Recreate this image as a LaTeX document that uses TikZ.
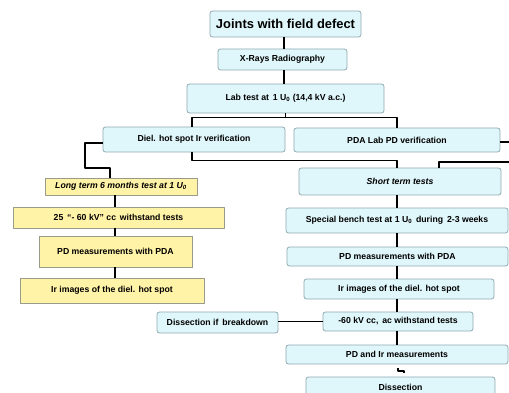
\documentclass[tikz,border=0pt]{standalone}
\usepackage{fontspec}
\setmainfont{Liberation Sans}
\definecolor{cyanbox}{HTML}{DFF6FA}
\definecolor{cyanline}{HTML}{8FA9B2}
\definecolor{yelbox}{HTML}{FFF3A8}
\definecolor{yelline}{HTML}{9A9A8A}
\begin{document}
\begin{tikzpicture}[x=1pt, y=-1pt, line join=round, font=\bfseries\fontsize{8.7}{10}\selectfont,
		cbox/.style={draw=cyanline, fill=cyanbox, rounded corners=2.5pt, inner sep=0pt, line width=0.8pt},
		ybox/.style={draw=yelline, fill=yelbox, inner sep=0pt, line width=0.8pt},
		link/.style={line width=1.6pt}]
			\def\xl{115}
			\def\xr{397}
			\useasboundingbox (0,0) rectangle (509,393);
			\node [cbox, minimum width=151pt, minimum height=26pt, font=\bfseries\fontsize{12.9}{15}\selectfont] (joints) at (285.5,24) {Joints with field defect};
			\node [cbox, minimum width=129pt, minimum height=21pt] (xray) at (282.5,59.5) {X-Rays Radiography};
			\node [cbox, minimum width=197pt, minimum height=29pt] (lab) at (285.5,98.5) {Lab test at\, 1 U\textsubscript{0} (14,4 kV a.c.)};
			\node [cbox, minimum width=182pt, minimum height=25pt] (diel) at (194,139.5) {Diel. hot spot Ir verification};
			\node [cbox, minimum width=206pt, minimum height=24pt] (pda) at (397,140) {PDA Lab PD verification};
			\node [ybox, minimum width=152pt, minimum height=17pt] (long) at (121,186.5) {\itshape Long term 6 months test at 1 U\textsubscript{0}};
			\node [ybox, minimum width=211pt, minimum height=21pt] (kvtest) at (118.5,217.5) {25\,\ ``- 60 kV'' cc\,\ withstand tests};
			\node [ybox, minimum width=153pt, minimum height=31pt] (pdy) at (115.5,251.5) {PD measurements with PDA};
			\node [ybox, minimum width=184pt, minimum height=25pt] (iry) at (112,290.5) {Ir images of the diel. hot spot};
			\node [cbox, minimum width=202pt, minimum height=27pt] (short) at (400,181.5) {\itshape Short term tests};
			\node [cbox, minimum width=222pt, minimum height=25pt] (bench) at (397,220.5) {Special bench test at 1 U\textsubscript{0}\,\ during\,\ 2-3 weeks};
			\node [cbox, minimum width=221pt, minimum height=19pt] (pdm) at (397.5,256.5) {PD measurements with PDA};
			\node [cbox, minimum width=190pt, minimum height=20pt] (irr) at (399,289) {Ir images of the diel. hot spot};
			\node [cbox, minimum width=150pt, minimum height=19pt] (kv) at (398,321.5) {-60 kV cc,\, ac withstand tests};
			\node [cbox, minimum width=121pt, minimum height=21pt] (brk) at (217.5,322.5) {Dissection if\,\ breakdown};
			\node [cbox, minimum width=222pt, minimum height=19pt] (pdir) at (397,354.5) {PD and Ir measurements};
			\node [cbox, minimum width=189pt, minimum height=20pt] (diss) at (400.5,387) {Dissection};
			\coordinate (rimA) at (512,142);
			\coordinate (rimB) at (512,162);
			\draw [link] (joints.south -| 284,0)--(xray.north -| 284,0);
			\draw [link] (xray.south -| 284,0)--(lab.north -| 284,0);
			\draw [link] (lab.south) --++(0,4) coordinate (fork);
			\draw [link] ([xshift=-2pt]diel.north) |- (fork) -| (pda.north);
			\draw [link] ([xshift=-2pt]diel.south) --++(0,8) -| ([xshift=-3pt]short.north);
			\draw [link] (pda.east |- rimA)--(rimA);
			\draw [link] (rimB) -| ([xshift=39pt]short.north);
			\draw [link] ([yshift=-3.5pt]diel.west) -| (85,168) -| ([xshift=-11pt]long.north);
			\draw [link] (long.south -| \xl,0)--(kvtest.north -| \xl,0);
			\draw [link] (kvtest.south -| \xl,0)--(pdy.north -| \xl,0);
			\draw [link] (pdy.south -| \xl,0)--(iry.north -| \xl,0);
			\draw [link] (short.south -| \xr,0)--(bench.north -| \xr,0);
			\draw [link] (bench.south -| \xr,0)--(pdm.north -| \xr,0);
			\draw [link] (pdm.south -| \xr,0)--(irr.north -| \xr,0);
			\draw [link] (irr.south -| \xr,0)--(kv.north -| \xr,0);
			\draw [link] (kv.south -| \xr,0)--(pdir.north -| \xr,0);
			\draw [link] (kv.west)--(kv.west -| brk.east);
			\draw [line width=1.3pt] (pdir.south -| 398,0) ++(0,3.5) --++(0,3) --++(6,0) --++(0,2.5);
		\end{tikzpicture}
\end{document}
